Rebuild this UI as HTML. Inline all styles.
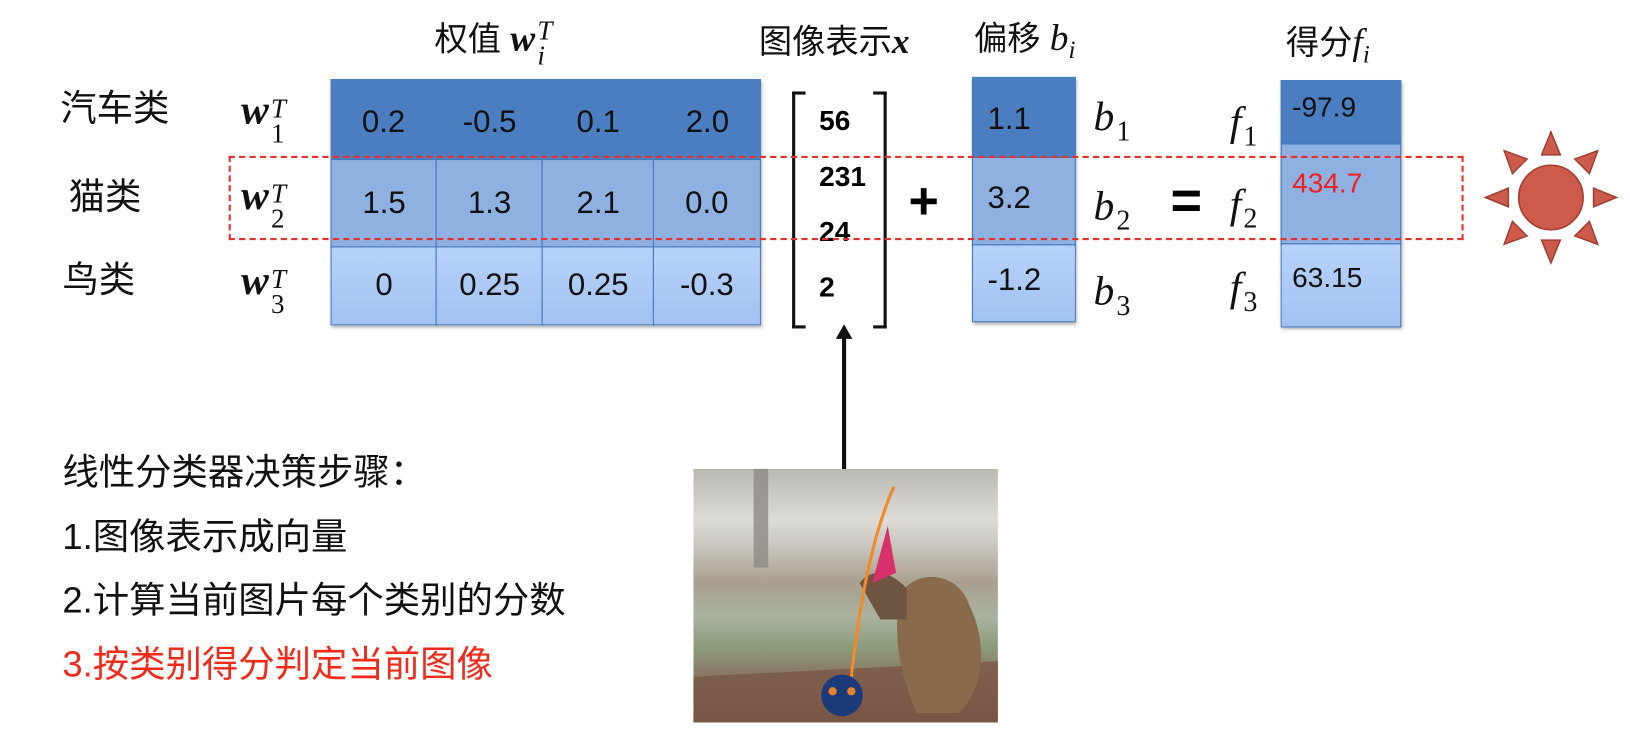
<!DOCTYPE html>
<html><head><meta charset="utf-8"><style>
html,body{margin:0;background:#fff}
body{width:1630px;height:735px;position:relative;overflow:hidden;font-family:"Liberation Sans","Noto Sans CJK SC",sans-serif}
#wrap{position:absolute;left:0;top:0;width:1568px;height:707px;transform:scale(1.0395);transform-origin:0 0}
.a{position:absolute}
.cell{position:absolute;box-sizing:border-box;border:1.5px solid #3e74bd;display:flex;align-items:center;justify-content:center;font-size:30px;color:#111}
.r1{background:#4a7ec0;border-color:#4a7ec0}
.r2{background:#8fb1e2}
.r3{background:linear-gradient(#b7d2fa,#a2c2f2)}
.cn{font-size:35px;color:#111;white-space:nowrap;line-height:40px}
.hd{font-size:32px}
.m{font-family:"Liberation Serif","DejaVu Serif",serif;font-style:italic;font-size:40px;color:#111;line-height:40px;white-space:nowrap}
.w{font-weight:bold}
.st{display:inline-block;vertical-align:middle;line-height:24px;font-size:26px;margin-left:2px;position:relative;top:2px}
.st span{display:block}
.sb{font-style:normal;font-size:27px;position:relative;top:10px;margin-left:2px}
.vec{font-size:27px;font-weight:bold;position:absolute;left:788px}
</style></head><body><div id="wrap">
<div class="a cn hd" style="left:418px;top:16px">权值 <span class="m w" style="font-size:36px">w</span><span class="m st"><span>T</span><span>i</span></span></div>
<div class="a cn hd" style="left:730px;top:20px">图像表示<span class="m w" style="font-size:34px">x</span></div>
<div class="a cn hd" style="left:937px;top:16px">偏移 <span class="m" style="font-size:36px">b<span style="font-size:24px;position:relative;top:8px">i</span></span></div>
<div class="a cn hd" style="left:1237px;top:20px">得分<span class="m" style="font-size:36px">f<span style="font-size:24px;position:relative;top:8px">i</span></span></div>

<div class="a cn" style="left:58px;top:85px">汽车类</div>
<div class="a cn" style="left:66px;top:170px">猫类</div>
<div class="a cn" style="left:60px;top:250px">鸟类</div>
<div class="a" style="left:232px;top:86px"><span class="m w">w</span><span class="m st"><span>T</span><span style="font-style:normal">1</span></span></div>
<div class="a" style="left:232px;top:168px"><span class="m w">w</span><span class="m st"><span>T</span><span style="font-style:normal">2</span></span></div>
<div class="a" style="left:232px;top:250px"><span class="m w">w</span><span class="m st"><span>T</span><span style="font-style:normal">3</span></span></div>

<div class="a" style="left:318px;top:76px;width:414px;height:237px;box-shadow:1px 2px 3px rgba(0,0,0,.3)">
<div class="cell r1" style="left:0;top:0;width:414px;height:77px"></div>
<div class="cell r1" style="left:0;top:0;width:102px;height:77px;border:none;padding-top:6px">0.2</div>
<div class="cell r1" style="left:102px;top:0;width:102px;height:77px;border:none;padding-top:6px">-0.5</div>
<div class="cell r1" style="left:204px;top:0;width:107px;height:77px;border:none;padding-top:6px">0.1</div>
<div class="cell r1" style="left:311px;top:0;width:103px;height:77px;border:none;padding-top:6px">2.0</div>
<div class="cell r2" style="left:0;top:77px;width:103px;height:86px">1.5</div>
<div class="cell r2" style="left:101px;top:77px;width:104px;height:86px">1.3</div>
<div class="cell r2" style="left:203px;top:77px;width:109px;height:86px">2.1</div>
<div class="cell r2" style="left:310px;top:77px;width:104px;height:86px">0.0</div>
<div class="cell r3" style="left:0;top:161px;width:103px;height:76px">0</div>
<div class="cell r3" style="left:101px;top:161px;width:104px;height:76px">0.25</div>
<div class="cell r3" style="left:203px;top:161px;width:109px;height:76px">0.25</div>
<div class="cell r3" style="left:310px;top:161px;width:104px;height:76px">-0.3</div>
</div>

<div class="a" style="left:762px;top:88px;width:10px;height:222px;border:3px solid #111;border-right:none"></div>
<div class="a" style="left:840px;top:88px;width:10px;height:222px;border:3px solid #111;border-left:none"></div>
<div class="vec" style="top:101px">56</div>
<div class="vec" style="top:155px">231</div>
<div class="vec" style="top:208px">24</div>
<div class="vec" style="top:261px">2</div>

<div class="a" style="left:874px;top:164px;font-size:50px;font-weight:bold">+</div>

<div class="a" style="left:935px;top:74px;width:100px;height:236px;box-shadow:1px 2px 3px rgba(0,0,0,.3)">
<div class="cell r1" style="left:0;top:0;width:100px;height:78px;justify-content:flex-start;padding-left:14px;padding-top:4px">1.1</div>
<div class="cell r2" style="left:0;top:77px;width:100px;height:86px;justify-content:flex-start;padding-left:14px;padding-bottom:6px">3.2</div>
<div class="cell r3" style="left:0;top:161px;width:100px;height:75px;justify-content:flex-start;padding-left:14px;padding-bottom:6px">-1.2</div>
</div>
<div class="a m" style="left:1052px;top:92px">b<span class="sb">1</span></div>
<div class="a m" style="left:1052px;top:178px">b<span class="sb">2</span></div>
<div class="a m" style="left:1052px;top:260px">b<span class="sb">3</span></div>

<div class="a" style="left:1126px;top:163px;font-size:52px;font-weight:bold">=</div>

<div class="a m" style="left:1183px;top:97px">f<span class="sb">1</span></div>
<div class="a m" style="left:1183px;top:176px">f<span class="sb">2</span></div>
<div class="a m" style="left:1183px;top:256px">f<span class="sb">3</span></div>

<div class="a" style="left:1232px;top:77px;width:116px;height:238px;box-shadow:1px 2px 3px rgba(0,0,0,.3)">
<div class="cell r1" style="left:0;top:0;width:116px;height:62px;align-items:flex-start;padding-top:10px;justify-content:flex-start;padding-left:10px;font-size:27px">-97.9</div>
<div class="cell r2" style="left:0;top:61px;width:116px;height:98px;justify-content:flex-start;padding-left:10px;padding-bottom:22px;color:#f02020;font-size:27px">434.7</div>
<div class="cell r3" style="left:0;top:157px;width:116px;height:81px;justify-content:flex-start;padding-left:10px;padding-bottom:14px;font-size:27px">63.15</div>
</div>

<div class="a" style="left:220px;top:150px;width:1184px;height:77px;border:2.5px dashed #e8302a"></div>

<svg class="a" style="left:1425px;top:125px" width="135" height="130" viewBox="0 0 135 130">
<g fill="#cd5b4b" stroke="#a33e31" stroke-width="1.5">
<circle cx="67" cy="65" r="31"/>
<polygon points="67,2 58,24 76,24"/><polygon points="67,128 58,106 76,106"/>
<polygon points="4,65 26,56 26,74"/><polygon points="130,65 108,56 108,74"/>
<polygon points="22,20 30,42 44,28"/><polygon points="112,20 90,28 104,42"/>
<polygon points="22,110 44,102 30,88"/><polygon points="112,110 104,88 90,102"/>
</g></svg>

<svg class="a" style="left:800px;top:312px" width="24" height="142">
<line x1="12" y1="10" x2="12" y2="142" stroke="#111" stroke-width="4"/>
<polygon points="12,0 4,14 20,14" fill="#111"/></svg>

<svg class="a" style="left:667px;top:451px" width="293" height="244" viewBox="0 0 293 244">
<defs><linearGradient id="bg" x1="0" y1="0" x2="0" y2="1">
<stop offset="0" stop-color="#b9b8b3"/><stop offset=".2" stop-color="#dcdbd6"/><stop offset=".3" stop-color="#c9c7c0"/><stop offset=".45" stop-color="#a99f8e"/><stop offset=".58" stop-color="#aab3a0"/><stop offset=".7" stop-color="#8d9c7c"/><stop offset=".8" stop-color="#8a7b68"/><stop offset="1" stop-color="#6b4e3e"/></linearGradient></defs>
<rect width="293" height="244" fill="url(#bg)"/>
<rect x="58" y="0" width="14" height="95" fill="#8e8a84" opacity=".8"/>
<path d="M0,200 L293,185 L293,244 L0,244Z" fill="#7a5846" opacity=".8"/>
<path d="M200,120 C215,95 255,100 265,130 C285,170 278,215 255,235 L215,235 C200,200 190,160 200,120Z" fill="#8a6a4c"/>
<path d="M160,110 C170,95 190,98 205,115 L205,145 L180,145Z" fill="#6e5442"/>
<path d="M193,17 Q165,80 152,200" stroke="#f08a2a" stroke-width="3" fill="none"/>
<path d="M187,55 L172,110 L195,100Z" fill="#d8306a"/>
<circle cx="143" cy="218" r="20" fill="#1b3a7a"/>
<circle cx="134" cy="214" r="4" fill="#e8822a"/><circle cx="152" cy="214" r="4" fill="#e8822a"/>
</svg>

<div class="a cn" style="left:60px;top:435px">线性分类器决策步骤：</div>
<div class="a cn" style="left:60px;top:497px">1.图像表示成向量</div>
<div class="a cn" style="left:60px;top:558px">2.计算当前图片每个类别的分数</div>
<div class="a cn" style="left:60px;top:620px;color:#f22a1a">3.按类别得分判定当前图像</div>
</div></body></html>
